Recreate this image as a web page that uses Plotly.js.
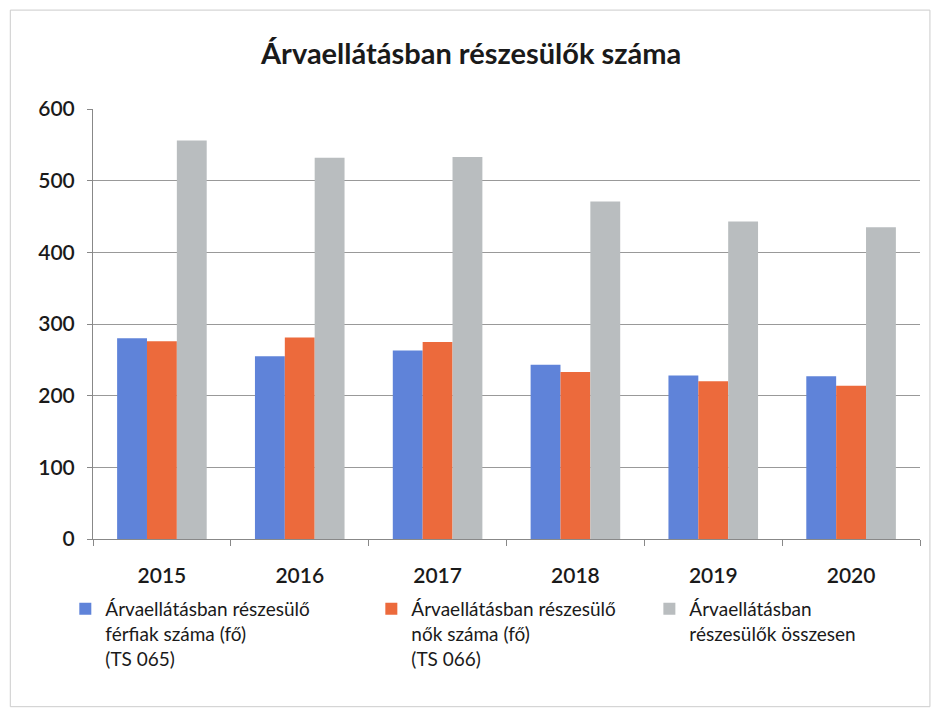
<!DOCTYPE html>
<html>
<head>
<meta charset="utf-8">
<script src="https://cdn.plot.ly/plotly-3.0.1.min.js"></script>
<style>html,body{margin:0;padding:0;background:#fff;}#chart{width:933px;height:716px;}</style>
</head>
<body>
<div id="chart"></div>
<script>
const years = ['2015', '2016', '2017', '2018', '2019', '2020'];
const ferfiak = [280, 255, 263, 243, 228, 227];
const nok = [276, 281, 275, 233, 220, 214];
const osszesen = [556, 532, 533, 471, 443, 435];
const seriesNames = [
  'Árvaellátásban részesülő<br>férfiak száma (fő)<br>(TS 065)',
  'Árvaellátásban részesülő<br>nők száma (fő)<br>(TS 066)',
  'Árvaellátásban<br>részesülők összesen'
];
const colors = ['#5F83D9', '#EC6A3C', '#B9BDBF'];
const values = [ferfiak, nok, osszesen];
const legendIds = ['legend', 'legend2', 'legend3'];

const traces = values.map((v, i) => ({
  type: 'bar', x: years, y: v, name: seriesNames[i],
  marker: {color: colors[i]}, legend: legendIds[i]
}));

const legendBase = {
  orientation: 'v', xref: 'container', yref: 'container', y: 0.176, xanchor: 'left', yanchor: 'top',
  font: {size: 19, color: '#1a1a1a'}, itemwidth: 30, valign: 'top', bgcolor: 'rgba(0,0,0,0)'
};
const legendX = [0.07, 0.398, 0.696];

const layout = {
  width: 933, height: 716,
  margin: {l: 93, r: 13, t: 109, b: 177, autoexpand: false},
  paper_bgcolor: '#fff', plot_bgcolor: '#fff',
  font: {family: 'Lato, "Open Sans", sans-serif', color: '#222'},
  title: {text: '<b>Árvaellátásban részesülők száma</b>', font: {size: 29, color: '#1a1a1a'},
    x: 0.505, xanchor: 'center', xref: 'container', y: 0.925, yanchor: 'middle', yref: 'container'},
  barmode: 'group', bargap: 0.35, bargroupgap: 0,
  xaxis: {
    type: 'category', tickfont: {size: 21, weight: 600, color: '#1a1a1a'}, showline: true, linecolor: '#888', linewidth: 1,
    ticks: 'outside', tickson: 'boundaries', ticklen: 6, tickcolor: '#888', showgrid: false,
    ticklabelstandoff: 18, automargin: false
  },
  yaxis: {
    range: [0, 600], dtick: 100, tickfont: {size: 21, weight: 600, color: '#1a1a1a'}, showline: true, linecolor: '#888', linewidth: 1,
    ticks: 'outside', ticklen: 5, tickcolor: '#888', gridcolor: '#999', gridwidth: 1, zeroline: false,
    ticklabelstandoff: 8, automargin: false
  },
  showlegend: true,
  legend: Object.assign({}, legendBase, {x: legendX[0]}),
  legend2: Object.assign({}, legendBase, {x: legendX[1]}),
  legend3: Object.assign({}, legendBase, {x: legendX[2]}),
  shapes: [{type: 'rect', xref: 'paper', yref: 'paper', x0: -0.1, x1: 1.012, y0: -0.39, y1: 1.23,
    line: {color: '#ccc', width: 1}}]
};
Plotly.newPlot('chart', traces, layout, {displayModeBar: false, staticPlot: true});
</script>
</body>
</html>
